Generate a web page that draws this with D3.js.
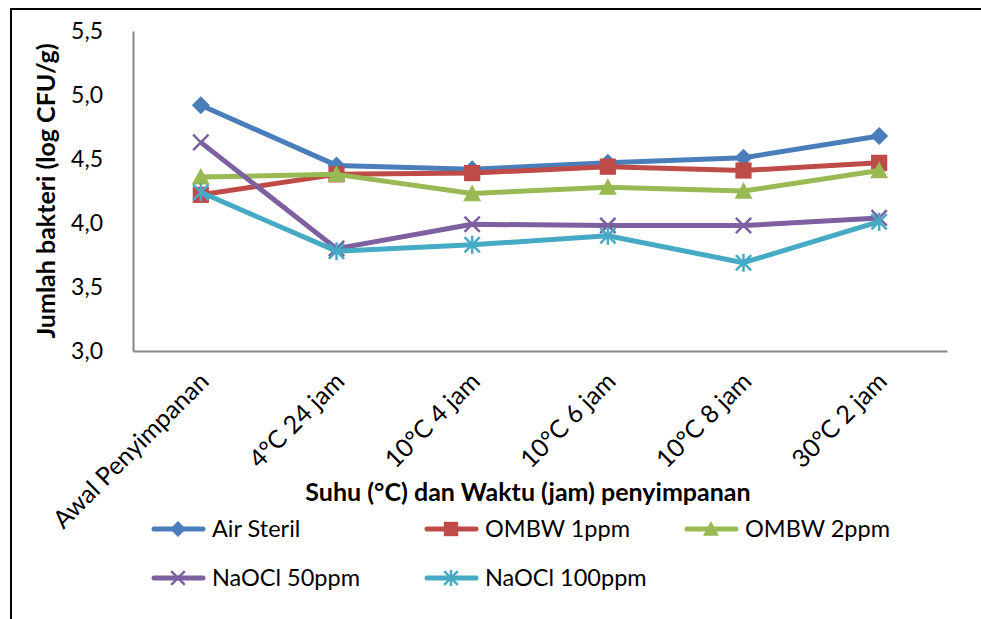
<!DOCTYPE html>
<html>
<head>
<meta charset="utf-8">
<script src="https://cdn.jsdelivr.net/npm/d3@7"></script>
<style>
  html, body { margin: 0; padding: 0; background: #fff; }
  svg { display: block; }
  text { font-family: Lato, "Open Sans", sans-serif; fill: #000; }
</style>
</head>
<body>
<svg id="chart" width="981" height="619"></svg>
<script>
const categories = ["Awal Penyimpanan", "4°C 24 jam", "10°C 4 jam", "10°C 6 jam", "10°C 8 jam", "30°C 2 jam"];
const seriesNames = ["Air Steril", "OMBW 1ppm", "OMBW 2ppm", "NaOCl 50ppm", "NaOCl 100ppm"];
const airSteril   = [4.92, 4.45, 4.42, 4.47, 4.51, 4.68];
const ombw1ppm    = [4.22, 4.38, 4.39, 4.44, 4.41, 4.47];
const ombw2ppm    = [4.36, 4.38, 4.23, 4.28, 4.25, 4.41];
const naocl50ppm  = [4.63, 3.80, 3.99, 3.98, 3.98, 4.04];
const naocl100ppm = [4.24, 3.78, 3.83, 3.90, 3.69, 4.01];
const yTicks = [3.0, 3.5, 4.0, 4.5, 5.0, 5.5];
const yTitle = "Jumlah bakteri (log CFU/g)";
const xTitle = "Suhu (°C) dan Waktu (jam) penyimpanan";

const seriesValues = [airSteril, ombw1ppm, ombw2ppm, naocl50ppm, naocl100ppm];
const colors = ["#4A7EBB", "#BE4B48", "#98B954", "#7D60A0", "#46AAC5"];
const markers = ["diamond", "square", "triangle", "x", "star"];

const svg = d3.select("#chart");

// outer frame
svg.append("rect").attr("x", 11).attr("y", 9).attr("width", 1000).attr("height", 700)
  .attr("fill", "none").attr("stroke", "#000").attr("stroke-width", 2);

const x = d3.scalePoint().domain(categories).range([133, 947]).padding(0.5);
const y = d3.scaleLinear().domain([3, 5.5]).range([351, 31]);

// Y axis
const yAxis = svg.append("g").attr("transform", "translate(133,0)")
  .call(d3.axisLeft(y).tickValues(yTicks).tickSize(0).tickPadding(30)
    .tickFormat(d => d3.format(".1f")(d).replace(".", ",")));
yAxis.select(".domain").attr("stroke", "#868686").attr("stroke-width", 2);
yAxis.selectAll("text").style("font-size", "23px").style("font-family", "Lato, sans-serif").attr("fill", "#000");

// X axis
const xAxis = svg.append("g").attr("transform", "translate(0,351)")
  .call(d3.axisBottom(x).tickSize(0).tickFormat(d => d));
xAxis.select(".domain").attr("stroke", "#868686").attr("stroke-width", 2);
xAxis.selectAll("text")
  .style("font-size", "25px").style("font-family", "Lato, sans-serif").attr("fill", "#000")
  .attr("text-anchor", "end")
  .attr("dy", "0")
  .attr("y", 0)
  .attr("transform", "translate(9,32) rotate(-45)");

// titles
svg.append("text").attr("transform", "translate(55,191) rotate(-90)")
  .attr("text-anchor", "middle").style("font-size", "25px").style("font-weight", "bold").text(yTitle);
svg.append("text").attr("x", 528).attr("y", 501)
  .attr("text-anchor", "middle").style("font-size", "25px").style("font-weight", "bold").text(xTitle);

function drawMarker(g, type, color, s) {
  const h = s / 2;
  if (type === "diamond") {
    g.append("path").attr("d", `M0,${-h}L${h},0L0,${h}L${-h},0Z`).attr("fill", color);
  } else if (type === "square") {
    const q = h * 0.9;
    g.append("rect").attr("x", -q).attr("y", -q).attr("width", 2 * q).attr("height", 2 * q).attr("fill", color);
  } else if (type === "triangle") {
    g.append("path").attr("d", `M0,${-h}L${h},${h * 0.85}L${-h},${h * 0.85}Z`).attr("fill", color);
  } else if (type === "x") {
    const q = h * 0.85;
    g.append("path").attr("d", `M${-q},${-q}L${q},${q}M${-q},${q}L${q},${-q}`)
      .attr("stroke", color).attr("stroke-width", 2.5).attr("fill", "none");
  } else if (type === "star") {
    const q = h * 0.85;
    g.append("path").attr("d", `M${-q},${-q}L${q},${q}M${-q},${q}L${q},${-q}M0,${-h}L0,${h}`)
      .attr("stroke", color).attr("stroke-width", 2.5).attr("fill", "none");
  }
}

const line = d3.line().x((d, i) => x(categories[i])).y(d => y(d));

seriesValues.forEach((vals, si) => {
  const g = svg.append("g");
  g.append("path").datum(vals).attr("d", line)
    .attr("fill", "none").attr("stroke", colors[si]).attr("stroke-width", 5)
    .attr("stroke-linejoin", "round");
  vals.forEach((v, i) => {
    const mg = g.append("g").attr("transform", `translate(${x(categories[i])},${y(v)})`);
    drawMarker(mg, markers[si], colors[si], 18);
  });
});

// legend
const legCols = [152, 425, 685];
const legRows = [529, 578];
seriesNames.forEach((name, i) => {
  const lx = legCols[i % 3], ly = legRows[Math.floor(i / 3)];
  const g = svg.append("g").attr("transform", `translate(${lx},${ly})`);
  g.append("line").attr("x1", 2).attr("x2", 51).attr("y1", 0).attr("y2", 0)
    .attr("stroke", colors[i]).attr("stroke-width", 5).attr("stroke-linecap", "round");
  const mg = g.append("g").attr("transform", "translate(26,0)");
  drawMarker(mg, markers[i], colors[i], 16);
  g.append("text").attr("x", 60).attr("y", 8).style("font-size", "23.5px").text(name);
});
</script>
</body>
</html>
